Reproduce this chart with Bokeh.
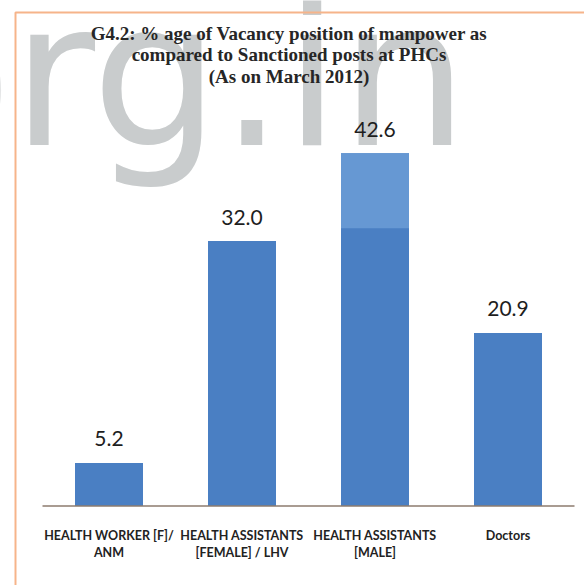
from bokeh.plotting import figure
from bokeh.models import Range1d, Label, ColumnDataSource
from bokeh.core.properties import value
from bokeh.embed import file_html
from bokeh.resources import INLINE

# ---- data ----
categories = ["HEALTH WORKER [F]/\nANM", "HEALTH ASSISTANTS\n[FEMALE] / LHV",
              "HEALTH ASSISTANTS\n[MALE]", "Doctors"]
vacancy_pct = [5.2, 32.0, 42.6, 20.9]
title_lines = ["G4.2: % age of Vacancy position of manpower as",
               "compared to Sanctioned posts at PHCs",
               "(As on March 2012)"]
watermark = "org.in"

# ---- layout ----
W, H = 584, 585
unit = 133.0          # px per category
ppu = 8.28            # px per percent
base_px = 505.5       # baseline from top of figure
x0 = -108.5 / unit

xs = list(range(len(categories)))
src = ColumnDataSource(dict(x=xs, v=vacancy_pct,
                            lbl=[f"{v:.1f}" for v in vacancy_pct],
                            cat=categories, zero=[0] * len(xs)))

p = figure(width=W, height=H, output_backend="svg", toolbar_location=None,
           x_range=Range1d(x0, x0 + W / unit),
           y_range=Range1d(-(H - base_px) / ppu, base_px / ppu),
           x_axis_location=None, y_axis_location=None, min_border=0)
p.grid.visible = False
p.outline_line_color = None
p.background_fill_color = "white"
p.border_fill_color = "white"

def sx(px):  # screen x -> data x
    return x0 + px / unit

def sy(py):  # screen y (from top) -> data y
    return (base_px - py) / ppu

# watermark
wm_size = 202
wm = Label(x=-112, y=H - 155 + 0.4 * wm_size, x_units="screen", y_units="screen",
           text=watermark, text_font="DejaVu Sans", text_font_size=f"{wm_size}px",
           text_color="#c9cccd", text_baseline="alphabetic", level="underlay")
p.add_layout(wm)

# orange frame (left + top edges)
p.line(x=[sx(15), sx(15), sx(W + 10)], y=[sy(H + 10), sy(12), sy(12)],
       line_color="#f6b48a", line_width=2)

# bars
p.vbar(x="x", top="v", bottom=0, width=68 / unit, source=src,
       fill_color="#4a7fc3", line_color=None)
# lighter top band on the tallest bar (as in the source image)
imax = vacancy_pct.index(max(vacancy_pct))
p.vbar(x=[xs[imax]], top=[vacancy_pct[imax]], bottom=[vacancy_pct[imax] - 75 / ppu],
       width=68 / unit, fill_color="#6698d3", line_color=None)

# base line
n = len(categories)
p.segment(x0=[-0.5], x1=[n - 0.5], y0=[0], y1=[0], line_color="#8c7b6e", line_width=1.5)

# value labels
p.text(x="x", y="v", text="lbl", source=src, text_align="center", text_baseline="middle",
       y_offset=-24, text_font=value("Lato"), text_font_size="21px", text_color="#1e1e1e")

# category labels
p.text(x="x", y="zero", text="cat", source=src, text_align="center", text_baseline="top",
       y_offset=22, text_font=value("Lato"), text_font_style="bold", text_font_size="12.5px",
       text_color="#222222", text_line_height=1.15)

# title
for line, ty in zip(title_lines, [33, 54, 76]):
    p.add_layout(Label(x=288.5, y=H - ty, x_units="screen", y_units="screen", text=line,
                       text_align="center", text_baseline="middle",
                       text_font="Liberation Serif", text_font_style="bold",
                       text_font_size="19px", text_color="#262626"))

open("out.html", "w").write(file_html(p, INLINE))
